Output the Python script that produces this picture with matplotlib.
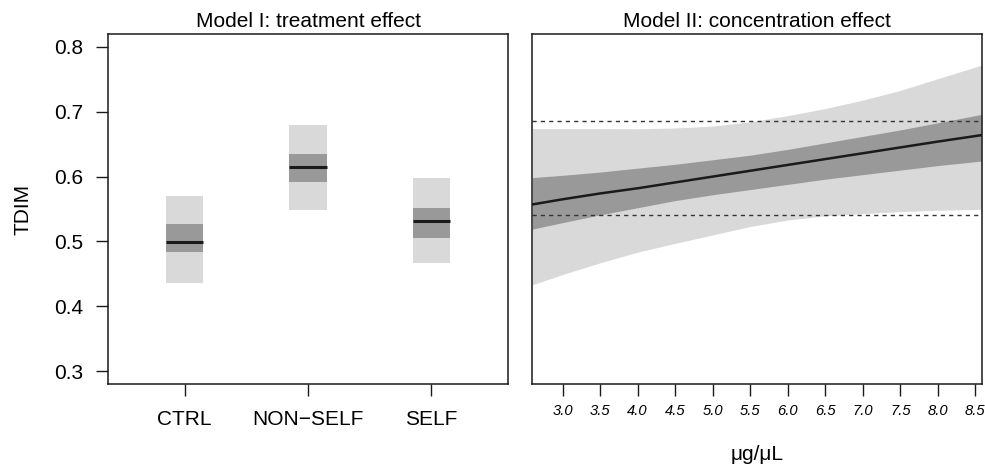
import matplotlib
matplotlib.use("Agg")
import matplotlib.pyplot as plt
import numpy as np

plt.rcParams['font.family'] = ['Liberation Sans', 'DejaVu Sans']

# Model I: treatment effect
categories = ["CTRL", "NON\u2212SELF", "SELF"]
mean = [0.499, 0.615, 0.531]
inner_lo = [0.483, 0.591, 0.505]
inner_hi = [0.527, 0.635, 0.552]
outer_lo = [0.436, 0.548, 0.466]
outer_hi = [0.570, 0.679, 0.598]

# Model II: concentration effect
conc = [2.595, 3.0, 3.5, 4.0, 4.5, 5.0, 5.5, 6.0, 6.5, 7.0, 7.5, 8.0, 8.585]
fit = [0.557, 0.565, 0.574, 0.582, 0.591, 0.600, 0.609, 0.618, 0.627, 0.636, 0.645, 0.654, 0.664]
band_in_hi = [0.5985, 0.602, 0.607, 0.613, 0.619, 0.626, 0.633, 0.642, 0.652, 0.662, 0.672, 0.683, 0.696]
band_in_lo = [0.519, 0.529, 0.541, 0.552, 0.563, 0.572, 0.580, 0.588, 0.596, 0.603, 0.610, 0.617, 0.624]
band_out_hi = [0.674, 0.674, 0.674, 0.6738, 0.675, 0.678, 0.6845, 0.694, 0.705, 0.718, 0.733, 0.751, 0.772]
band_out_lo = [0.433, 0.449, 0.467, 0.4835, 0.497, 0.510, 0.523, 0.533, 0.5395, 0.543, 0.546, 0.548, 0.5496]
ref_levels = [0.686, 0.541]
conc_ticks = [3.0, 3.5, 4.0, 4.5, 5.0, 5.5, 6.0, 6.5, 7.0, 7.5, 8.0, 8.5]

light = "#d9d9d9"
dark = "#999999"
ink = "#1a1a1a"
fs = 15

fig = plt.figure(figsize=(9.85, 4.65), dpi=100)
W, H = 985, 465
ax1 = fig.add_axes([108 / W, 1 - 384 / H, 400 / W, 350 / H])
ax2 = fig.add_axes([532.3 / W, 1 - 384 / H, 449.4 / W, 350 / H])

# left panel
xpos = np.arange(1, len(categories) + 1)
bw = 0.3
ax1.bar(xpos, np.array(outer_hi) - np.array(outer_lo), bottom=outer_lo,
        width=bw, color=light, linewidth=0)
ax1.bar(xpos, np.array(inner_hi) - np.array(inner_lo), bottom=inner_lo,
        width=bw, color=dark, linewidth=0)
ax1.hlines(mean, xpos - bw / 2, xpos + bw / 2, color=ink, linewidth=2.2)
ax1.set_xlim(0.38, 3.62)
ax1.set_ylim(0.28, 0.82)
ax1.set_xticks(xpos)
ax1.set_xticklabels(categories, fontsize=fs)
ax1.set_yticks([0.3, 0.4, 0.5, 0.6, 0.7, 0.8])
ax1.set_yticklabels(["0.3", "0.4", "0.5", "0.6", "0.7", "0.8"], fontsize=fs)
ax1.tick_params(axis='both', direction='out', length=8.6, width=1.0, color=ink)
ax1.tick_params(axis='y', pad=9)
ax1.tick_params(axis='x', pad=10)
ax1.set_ylabel("TDIM", fontsize=fs, labelpad=16)
ax1.set_title("Model I: treatment effect", fontsize=fs, pad=5)

# right panel
ax2.fill_between(conc, band_out_lo, band_out_hi, color=light, linewidth=0)
ax2.fill_between(conc, band_in_lo, band_in_hi, color=dark, linewidth=0)
ax2.plot(conc, fit, color=ink, linewidth=1.8)
for lv in ref_levels:
    ax2.axhline(lv, color="#333333", linewidth=1.0, linestyle=(0, (3, 3)))
ax2.set_xlim(2.595, 8.585)
ax2.set_ylim(0.28, 0.82)
ax2.set_xticks(conc_ticks)
ax2.set_xticklabels(["%.1f" % t for t in conc_ticks], fontsize=10.6, style='italic')
ax2.set_yticks([])
ax2.tick_params(axis='x', direction='out', length=8.6, width=1.0, color=ink, pad=6)
ax2.set_xlabel("\u03bcg/\u03bcL", fontsize=fs, labelpad=19)
ax2.set_title("Model II: concentration effect", fontsize=fs, pad=5)

for ax in (ax1, ax2):
    for sp in ax.spines.values():
        sp.set_linewidth(1.1)
        sp.set_color(ink)

fig.savefig("out.png", dpi=100)
